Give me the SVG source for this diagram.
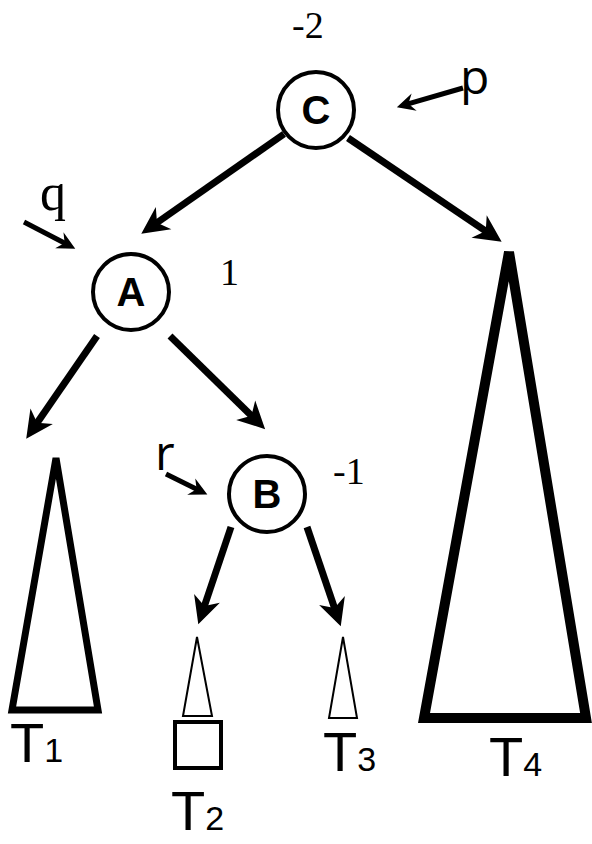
<svg xmlns="http://www.w3.org/2000/svg" width="592" height="844" viewBox="0 0 592 844">
<style>
.node circle{fill:#fff;stroke:#000;stroke-width:4}
.node text{font-family:"Liberation Sans",Arial,sans-serif;font-weight:bold;font-size:40px;text-anchor:middle;fill:#000}
.bal{font-family:"Liberation Serif","Times New Roman",serif;font-size:38px;fill:#000}
.ptr{font-family:"Open Sans","Liberation Sans",sans-serif;font-size:48px;fill:#000}
.ptrq{font-family:"Liberation Serif",serif;font-size:52px;fill:#000}
.edge{stroke:#000;stroke-width:7;fill:none}
.edge2{stroke:#000;stroke-width:5;fill:none}
.tlab{font-family:"Liberation Sans",Arial,sans-serif;font-size:56px;fill:#000}
.tsub{font-family:"Liberation Sans",Arial,sans-serif;font-size:34px;fill:#000}
</style>
<defs>
<marker id="ah" markerUnits="userSpaceOnUse" orient="auto" refX="-20" refY="0" markerWidth="40" markerHeight="40" viewBox="-40 -20 50 40" overflow="visible">
<path d="M0,0 L-34,-17 L-24,0 L-34,17 Z" fill="#000"/>
</marker>
<marker id="ahs" markerUnits="userSpaceOnUse" orient="auto" refX="-12" refY="0" markerWidth="30" markerHeight="30" viewBox="-30 -15 40 30" overflow="visible">
<path d="M0,0 L-24,-12 L-16,0 L-24,12 Z" fill="#000"/>
</marker>
</defs>
<g id="edges">
<line class="edge" x1="284" y1="134" x2="154.4" y2="224.5" marker-end="url(#ah)"/>
<line class="edge" x1="348" y1="138" x2="488.4" y2="232.8" marker-end="url(#ah)"/>
<line class="edge" x1="97" y1="336" x2="35.3" y2="425.5" marker-end="url(#ah)"/>
<line class="edge" x1="170" y1="336" x2="253.7" y2="418" marker-end="url(#ah)"/>
<line class="edge" x1="231" y1="527" x2="203.4" y2="609" marker-end="url(#ah)"/>
<line class="edge" x1="307" y1="527" x2="335.6" y2="611.1" marker-end="url(#ah)"/>
<line class="edge2" x1="463" y1="88" x2="405.5" y2="104.7" marker-end="url(#ahs)"/>
<line class="edge2" x1="24" y1="222" x2="67.3" y2="244.5" marker-end="url(#ahs)"/>
<line class="edge2" x1="166" y1="474" x2="199.3" y2="490.6" marker-end="url(#ahs)"/>
</g>
<g id="node-C" class="node">
<circle cx="316" cy="110" r="38"/>
<text x="316" y="124">C</text>
</g>
<g id="node-A" class="node">
<circle cx="131" cy="292" r="38"/>
<text x="131" y="306">A</text>
</g>
<g id="node-B" class="node">
<circle cx="267" cy="494" r="38"/>
<text x="267" y="508">B</text>
</g>
<g id="labels">
<text class="bal" x="292" y="38">-2</text>
<text class="bal" x="220" y="285">1</text>
<text class="bal" x="333" y="484">-1</text>
<text class="ptr" x="460" y="94">p</text>
<text class="ptrq" x="40" y="210">q</text>
<text class="ptr" x="155" y="470">r</text>
</g>
<g id="T1">
<polygon points="56,458 98,710 12,710" fill="none" stroke="#000" stroke-width="7" stroke-linejoin="miter"/>
<text class="tlab" x="10" y="762">T<tspan class="tsub">1</tspan></text>
</g>
<g id="T2">
<polygon points="197,637 212,716 183,716" fill="none" stroke="#000" stroke-width="2"/>
<rect x="175" y="722" width="46" height="46" fill="none" stroke="#000" stroke-width="4"/>
<text class="tlab" x="171" y="830">T<tspan class="tsub">2</tspan></text>
</g>
<g id="T3">
<polygon points="343,637 357,718 329,718" fill="none" stroke="#000" stroke-width="2"/>
<text class="tlab" x="323" y="771">T<tspan class="tsub">3</tspan></text>
</g>
<g id="T4">
<polygon points="509,252 586,718 424,718" fill="none" stroke="#000" stroke-width="10"/>
<text class="tlab" x="489" y="776">T<tspan class="tsub">4</tspan></text>
</g>
</svg>
